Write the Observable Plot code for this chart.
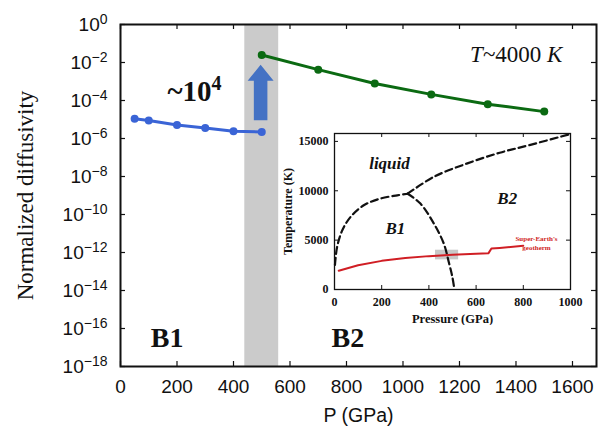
<!DOCTYPE html>
<html><head><meta charset="utf-8">
<script src="https://cdn.jsdelivr.net/npm/d3@7"></script>
<script src="https://cdn.jsdelivr.net/npm/@observablehq/plot@0.6"></script>
<style>
html,body{margin:0;padding:0;background:#fff;}
#wrap{position:relative;width:600px;height:427px;overflow:hidden;}
#inset{position:absolute;left:280px;top:125px;}
svg{display:block;}
</style></head><body><div id="wrap"><div id="main"></div><div id="inset"></div></div>
<script>
// ---------- main chart data ----------
const pressureB1 = [50, 100, 200, 300, 400, 500];
const diffusivityB1 = [1.1e-5, 8.9e-6, 5.2e-6, 3.6e-6, 2.4e-6, 2.2e-6];
const pressureB2 = [500, 700, 900, 1100, 1300, 1500];
const diffusivityB2 = [2.5e-2, 4.2e-3, 7.9e-4, 2.1e-4, 6.4e-5, 2.6e-5];
const xTicks = [0, 200, 400, 600, 800, 1000, 1200, 1400, 1600];
const yTickExponents = [0, -2, -4, -6, -8, -10, -12, -14, -16, -18];
const transitionBand = [440, 560];
// block arrow outline (pressure, diffusivity)
const arrowPressure = [472, 520, 520, 542, 496, 450, 472, 472];
const arrowDiffusivity = [9e-6, 9e-6, 1.1e-3, 1.1e-3, 7.6e-3, 1.1e-3, 1.1e-3, 9e-6];
const mainTexts = ["~10^4", "T~4000 K", "B1", "B2"];
const mainTextPressure = [262, 1401, 165, 805];
const mainTextDiffusivity = [2.9e-4, 2.6e-2, 3e-17, 3e-17];
const xLabel = "P (GPa)";
const yLabel = "Normalized diffusivity";

// ---------- inset data ----------
const liquidB1P = [2, 11, 33, 68, 124, 195, 266, 310];
const liquidB1T = [2500, 4300, 6000, 7350, 8530, 9210, 9540, 9700];
const b1b2P = [310, 364, 421, 463, 485, 500, 508];
const b1b2T = [9700, 8700, 6680, 4655, 2700, 1200, 0];
const liquidB2P = [310, 420, 560, 700, 830, 1000];
const liquidB2T = [9700, 11400, 12750, 13850, 14650, 15750];
const geothermP = [18, 100, 200, 300, 400, 500, 600, 652, 665, 700, 800];
const geothermT = [1900, 2450, 2900, 3180, 3380, 3520, 3620, 3660, 4150, 4210, 4430];
const grayBoxP = [428, 526];
const grayBoxT = [3000, 3980];
const insetXTicks = [0, 200, 400, 600, 800, 1000];
const insetYTicks = [0, 5000, 10000, 15000];
const insetTexts = ["liquid", "B1", "B2"];
const insetTextP = [233, 258, 732];
const insetTextT = [12780, 6200, 9210];
const geothermTexts = ["Super-Earth's", "geotherm"];
const geothermTextP = [856, 856];
const geothermTextT = [5090, 4250];
const insetXLabel = "Pressure (GPa)";
const insetYLabel = "Temperature (K)";

const serif = "'Liberation Serif','Times New Roman',serif";
const sans = "'Liberation Sans',Arial,sans-serif";
const blue = "#3a64d6", green = "#0b6a12", arrowBlue = "#4472c4", red = "#d01e24";

const zip = (a, b) => a.map((v, i) => ({x: v, y: b[i]}));
const b1 = zip(pressureB1, diffusivityB1);
const b2 = zip(pressureB2, diffusivityB2);
const arrow = zip(arrowPressure, arrowDiffusivity);
const yTicks = yTickExponents.map(e => Math.pow(10, e));
const ann = mainTexts.map((t, i) => ({t, x: mainTextPressure[i], y: mainTextDiffusivity[i]}));

const W = 600, H = 427, mL = 120, mR = 4, mT = 24, mB = 61;
const iw = W - mL - mR, ih = H - mT - mB;

const main = Plot.plot({
  width: W, height: H, marginLeft: mL, marginRight: mR, marginTop: mT, marginBottom: mB,
  style: {fontFamily: sans, fontSize: "19px", color: "#111", background: "transparent"},
  x: {domain: [0, 1685], ticks: xTicks, tickSize: 0, tickPadding: 13, label: null, tickFormat: d => String(d)},
  y: {type: "log", domain: [1e-18, 1], ticks: yTicks, tickSize: 0, tickPadding: 13, label: null,
      tickFormat: d => "10^" + Math.round(Math.log10(d))},
  marks: [
    Plot.rectX([transitionBand], {x1: d => d[0], x2: d => d[1], fill: "#cbcbcb"}),
    Plot.line(arrow, {x: "x", y: "y", fill: arrowBlue, stroke: "none", curve: "linear"}),
    Plot.line(b1, {x: "x", y: "y", stroke: blue, strokeWidth: 3}),
    Plot.dot(b1, {x: "x", y: "y", fill: blue, r: 4}),
    Plot.line(b2, {x: "x", y: "y", stroke: green, strokeWidth: 3}),
    Plot.dot(b2, {x: "x", y: "y", fill: green, r: 4}),
    Plot.frame({stroke: "#111", strokeWidth: 2}),
    Plot.tickX(xTicks, {x: d => d, insetTop: ih - 5, stroke: "#111", strokeWidth: 1.2}),
    Plot.tickX(xTicks, {x: d => d, insetBottom: ih - 5, stroke: "#111", strokeWidth: 1.2}),
    Plot.tickY(yTicks, {y: d => d, insetRight: iw - 5, stroke: "#111", strokeWidth: 1.2}),
    Plot.tickY(yTicks, {y: d => d, insetLeft: iw - 5, stroke: "#111", strokeWidth: 1.2}),
    Plot.text([ann[0]], {x: "x", y: "y", text: "t", fontFamily: serif, fontWeight: "bold", fontSize: 29, fill: "#111"}),
    Plot.text([ann[1]], {x: "x", y: "y", text: "t", fontFamily: serif, fontSize: 23, fill: "#111"}),
    Plot.text(ann.slice(2), {x: "x", y: "y", text: "t", fontFamily: serif, fontWeight: "bold", fontSize: 28, fill: "#111"}),
    Plot.text([yLabel], {text: d => d, frameAnchor: "left", dx: -95, rotate: -90, textAnchor: "middle", lineAnchor: "middle", fontFamily: serif, fontSize: 23, fill: "#111"}),
    Plot.text([xLabel], {text: d => d, frameAnchor: "bottom", dy: 49, lineAnchor: "middle", fontFamily: sans, fontSize: 19.5, fill: "#111"})
  ]
});
document.getElementById("main").appendChild(main);

const NS = "http://www.w3.org/2000/svg";
function sup(textEl, base, exp, size, dy) {
  while (textEl.firstChild) textEl.removeChild(textEl.firstChild);
  textEl.appendChild(document.createTextNode(base));
  const ts = document.createElementNS(NS, "tspan");
  ts.setAttribute("font-size", size);
  ts.setAttribute("dy", dy);
  ts.textContent = exp;
  textEl.appendChild(ts);
}
main.querySelectorAll("text").forEach(t => {
  const s = t.textContent;
  if (s === mainTexts[0]) {
    const parts = s.split("^");
    sup(t, parts[0], parts[1], "20px", "-11");
  } else if (s.indexOf("^") >= 0) {
    const parts = s.split("^");
    sup(t, parts[0], parts[1].replace("-", "\u2212"), "14px", "-7");
  } else if (s === mainTexts[1]) {
    while (t.firstChild) t.removeChild(t.firstChild);
    const a = document.createElementNS(NS, "tspan"); a.setAttribute("font-style", "italic"); a.textContent = s[0];
    const m = document.createTextNode(s.slice(1, -1));
    const b = document.createElementNS(NS, "tspan"); b.setAttribute("font-style", "italic"); b.textContent = s.slice(-1);
    t.appendChild(a); t.appendChild(m); t.appendChild(b);
  }
});

// ---------- inset ----------
const IW = 318, IH = 200, imL = 54, imR = 28, imT = 8, imB = 36;
const iiw = IW - imL - imR, iih = IH - imT - imB;
const dashed = {x: "x", y: "y", stroke: "#111", strokeWidth: 2.2, strokeDasharray: "7,4", curve: "catmull-rom"};
const inset = Plot.plot({
  width: IW, height: IH, marginLeft: imL, marginRight: imR, marginTop: imT, marginBottom: imB,
  style: {fontFamily: serif, fontSize: "12px", fontWeight: "bold", color: "#111", background: "transparent"},
  x: {domain: [0, 1000], ticks: insetXTicks, tickSize: 0, tickPadding: 8, label: null, tickFormat: d => String(d)},
  y: {domain: [0, 15800], ticks: insetYTicks, tickSize: 0, tickPadding: 6, label: null, tickFormat: d => String(d)},
  marks: [
    Plot.rect([0], {x1: () => grayBoxP[0], x2: () => grayBoxP[1], y1: () => grayBoxT[0], y2: () => grayBoxT[1], fill: "#c8c8c8"}),
    Plot.line(zip(liquidB1P, liquidB1T), dashed),
    Plot.line(zip(b1b2P, b1b2T), dashed),
    Plot.line(zip(liquidB2P, liquidB2T), dashed),
    Plot.line(zip(geothermP, geothermT), {x: "x", y: "y", stroke: red, strokeWidth: 2, curve: "linear"}),
    Plot.frame({stroke: "#111", strokeWidth: 1.3}),
    Plot.tickX(insetXTicks, {x: d => d, insetTop: iih - 4, stroke: "#111"}),
    Plot.tickX(insetXTicks, {x: d => d, insetBottom: iih - 4, stroke: "#111"}),
    Plot.tickY(insetYTicks, {y: d => d, insetRight: iiw - 4, stroke: "#111"}),
    Plot.tickY(insetYTicks, {y: d => d, insetLeft: iiw - 4, stroke: "#111"}),
    Plot.text(insetTexts, {x: (d, i) => insetTextP[i], y: (d, i) => insetTextT[i], text: d => d, fontSize: 17, fontStyle: "italic", fontWeight: "bold", fill: "#111"}),
    Plot.text(geothermTexts, {x: (d, i) => geothermTextP[i], y: (d, i) => geothermTextT[i], text: d => d, fontSize: 7, fontWeight: "bold", fill: red}),
    Plot.text([insetYLabel], {text: d => d, frameAnchor: "left", dx: -46, rotate: -90, textAnchor: "middle", lineAnchor: "middle", fontSize: 12, fontWeight: "bold", fill: "#111"}),
    Plot.text([insetXLabel], {text: d => d, frameAnchor: "bottom", dy: 29, lineAnchor: "middle", fontSize: 12.5, fontWeight: "bold", fill: "#111"})
  ]
});
document.getElementById("inset").appendChild(inset);
</script></body></html>
